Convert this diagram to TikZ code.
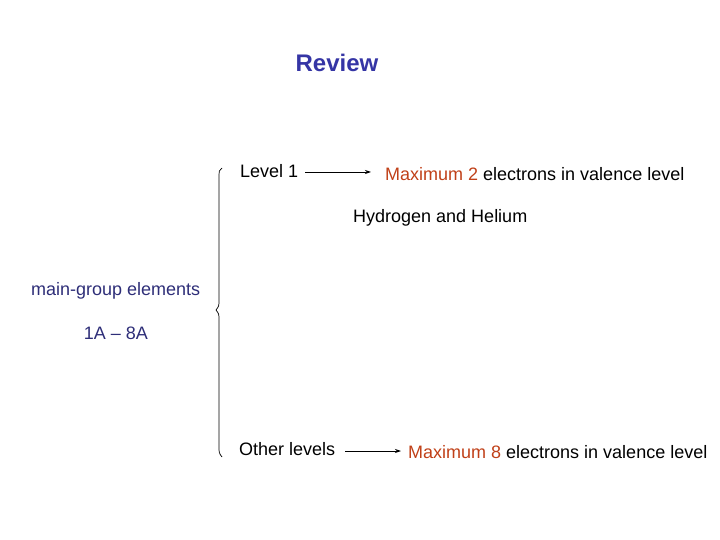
\documentclass[tikz,border=0pt]{standalone}
\usepackage{fontspec}
\setmainfont{Liberation Sans}
\usetikzlibrary{arrows.meta}
\definecolor{reviewblue}{HTML}{3535A5}
\definecolor{navy}{HTML}{2E2E78}
\definecolor{rust}{HTML}{C04018}
\tikzset{
  txt/.style={inner sep=0pt, font=\fontsize{18}{21}\selectfont, text=black},
  link/.style={-{Stealth[length=6pt,width=4pt]}, line width=0.8pt},
}
\begin{document}
\begin{tikzpicture}[x=1pt,y=-1pt]
\useasboundingbox (0,0) rectangle (720,540);
\node[inner sep=0pt, font=\fontsize{24}{28}\selectfont\bfseries, text=reviewblue] (title) at (337,63) {Review};
\node[txt, anchor=west] (l1) at (240,171) {Level 1};
\node[txt, anchor=west] (m2) at (385,174) {\textcolor{rust}{Maximum 2} electrons in valence level};
\node[txt, anchor=west] (hh) at (353,218) {Hydrogen and Helium};
\node[txt, anchor=west, text=navy] (mg) at (31,291) {main-group elements};
\node[txt, text=navy] (ga) at (116,333) {1A -- 8A};
\node[txt, anchor=west] (ol) at (239,449) {Other levels};
\node[txt, anchor=west] (m8) at (408,452) {\textcolor{rust}{Maximum 8} electrons in valence level};
\coordinate (a1s) at (305,172);
\coordinate (a1e) at (371,172);
\coordinate (a2s) at (345,451);
\coordinate (a2e) at (401,451);
\draw[link] (a1s) -- (a1e);
\draw[link] (a2s) -- (a2e);
\draw[line width=0.7pt] (222,168) .. controls (219,170) .. (219,180) -- (219,300)
  .. controls (219,306) .. (216,310) .. controls (219,314) .. (219,320) -- (219,446)
  .. controls (219,453) .. (222,457);
\end{tikzpicture}
\end{document}
